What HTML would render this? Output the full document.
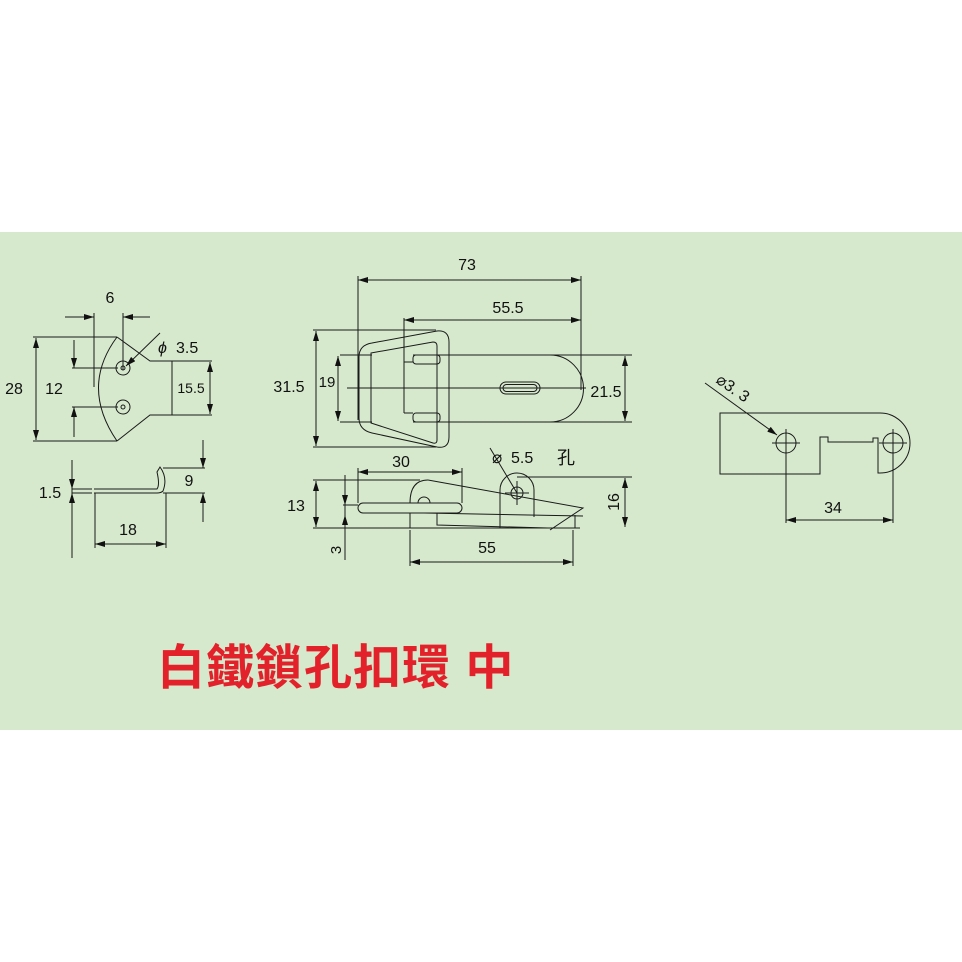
<!DOCTYPE html>
<html><head><meta charset="utf-8"><style>
html,body{margin:0;padding:0;background:#fff}
svg{display:block}
text{font-family:"Liberation Sans","Noto Sans CJK TC",sans-serif;fill:#111}
</style></head><body>
<svg width="962" height="962" viewBox="0 0 962 962" xmlns="http://www.w3.org/2000/svg">
<defs>
<marker id="a" viewBox="0 0 10 6" refX="10" refY="3" markerWidth="10" markerHeight="6" orient="auto-start-reverse" markerUnits="userSpaceOnUse"><path d="M0,0L10,3L0,6z" fill="#111"/></marker>
</defs>
<rect x="0" y="232" width="962" height="498" fill="#d6e9cd"/>
<g fill="none" stroke="#1a1a1a" stroke-width="1">
<line x1="65" y1="317" x2="94" y2="317" marker-end="url(#a)"/>
<line x1="150" y1="317" x2="123" y2="317" marker-end="url(#a)"/>
<line x1="94" y1="313" x2="94" y2="387"/>
<line x1="123" y1="313" x2="123" y2="370"/>
<path d="M117,337 Q80,387 117,441"/>
<path d="M117,337 L150,361 L172,361 L172,415 L150,415 L117,441"/>
<line x1="33" y1="337" x2="117" y2="337"/>
<line x1="33" y1="441" x2="117" y2="441"/>
<line x1="36" y1="388" x2="36" y2="338" marker-end="url(#a)"/>
<line x1="36" y1="388" x2="36" y2="440" marker-end="url(#a)"/>
<circle cx="123" cy="368" r="7"/><circle cx="123" cy="368" r="2"/>
<circle cx="123" cy="407" r="7"/><circle cx="123" cy="407" r="2"/>
<line x1="72" y1="368" x2="118" y2="368"/>
<line x1="72" y1="407" x2="118" y2="407"/>
<line x1="74" y1="340" x2="74" y2="368" marker-end="url(#a)"/>
<line x1="74" y1="437" x2="74" y2="407" marker-end="url(#a)"/>
<line x1="172" y1="361" x2="212" y2="361"/>
<line x1="172" y1="415" x2="212" y2="415"/>
<line x1="210" y1="388" x2="210" y2="362" marker-end="url(#a)"/>
<line x1="210" y1="388" x2="210" y2="414" marker-end="url(#a)"/>
<line x1="160" y1="333" x2="126" y2="366" marker-end="url(#a)"/>
<path d="M94,489 L157,489 Q160,485 157,472 L160,467 Q168,478 163,491 Q161,493 157,493 L94,493"/>
<line x1="72" y1="460" x2="72" y2="558"/>
<line x1="72" y1="470" x2="72" y2="489" marker-end="url(#a)"/>
<line x1="72" y1="512" x2="72" y2="493" marker-end="url(#a)"/>
<line x1="72" y1="489" x2="92" y2="489"/><line x1="72" y1="493" x2="92" y2="493"/>
<line x1="163" y1="468" x2="205" y2="468"/>
<line x1="163" y1="493" x2="205" y2="493"/>
<line x1="203" y1="440" x2="203" y2="468" marker-end="url(#a)"/>
<line x1="203" y1="522" x2="203" y2="493" marker-end="url(#a)"/>
<line x1="95" y1="493" x2="95" y2="548"/>
<line x1="166" y1="493" x2="166" y2="548"/>
<line x1="130" y1="544" x2="95" y2="544" marker-end="url(#a)"/>
<line x1="130" y1="544" x2="166" y2="544" marker-end="url(#a)"/>
<line x1="470" y1="280" x2="358" y2="280" marker-end="url(#a)"/>
<line x1="470" y1="280" x2="581" y2="280" marker-end="url(#a)"/>
<line x1="358" y1="276" x2="358" y2="420"/>
<line x1="581" y1="276" x2="581" y2="390"/>
<line x1="500" y1="320" x2="404" y2="320" marker-end="url(#a)"/>
<line x1="500" y1="320" x2="581" y2="320" marker-end="url(#a)"/>
<line x1="404" y1="318" x2="404" y2="362"/>
<line x1="313" y1="330" x2="436" y2="330"/>
<line x1="313" y1="447" x2="436" y2="447"/>
<line x1="316" y1="388" x2="316" y2="331" marker-end="url(#a)"/>
<line x1="316" y1="388" x2="316" y2="446" marker-end="url(#a)"/>
<line x1="340" y1="355" x2="372" y2="355"/>
<line x1="340" y1="422" x2="372" y2="422"/>
<line x1="338" y1="388" x2="338" y2="356" marker-end="url(#a)"/>
<line x1="338" y1="388" x2="338" y2="421" marker-end="url(#a)"/>
<path d="M372,343 L437,331 Q449,330 449,342 L449,437 Q449,449 437,447 L372,433 Q359,430 359,418 L359,357 Q359,345 372,343 Z"/>
<path d="M371,353 L433,342 Q437,342 437,346 L437,440 Q437,444 433,443 L371,423 Z"/>
<path d="M413,355 L550,355 A33.5,33.5 0 0 1 550,422 L413,422"/>
<line x1="404" y1="362" x2="404" y2="413"/>
<rect x="413" y="355" width="27" height="9" rx="3"/>
<rect x="413" y="413" width="27" height="9" rx="3"/>
<line x1="404" y1="362" x2="413" y2="362"/><line x1="404" y1="413" x2="413" y2="413"/>
<rect x="500" y="382" width="40" height="12" rx="6"/>
<rect x="503" y="384.5" width="34" height="7" rx="3.5"/>
<line x1="347" y1="388" x2="586" y2="388"/>
<line x1="550" y1="355" x2="632" y2="355"/>
<line x1="550" y1="422" x2="632" y2="422"/>
<line x1="625" y1="388" x2="625" y2="356" marker-end="url(#a)"/>
<line x1="625" y1="388" x2="625" y2="421" marker-end="url(#a)"/>
<line x1="410" y1="472" x2="358" y2="472" marker-end="url(#a)"/>
<line x1="410" y1="472" x2="462" y2="472" marker-end="url(#a)"/>
<line x1="358" y1="468" x2="358" y2="503"/>
<line x1="462" y1="468" x2="462" y2="503"/>
<line x1="313" y1="480" x2="420" y2="480"/>
<line x1="313" y1="528" x2="580" y2="528"/>
<line x1="316" y1="504" x2="316" y2="481" marker-end="url(#a)"/>
<line x1="316" y1="504" x2="316" y2="527" marker-end="url(#a)"/>
<line x1="345" y1="475" x2="345" y2="560"/>
<line x1="345" y1="485" x2="345" y2="505" marker-end="url(#a)"/>
<line x1="345" y1="545" x2="345" y2="515" marker-end="url(#a)"/>
<line x1="343" y1="505" x2="358" y2="505"/>
<rect x="358" y="503" width="104" height="10" rx="5"/>
<path d="M410,503 Q410,480 428,480"/>
<path d="M418,503 A6,6 0 0 1 430,503"/>
<path d="M428,480 L583,508 L550,530"/>
<path d="M424,513 L583,516"/>
<path d="M437,513 L437,525 L548,528"/>
<path d="M410,513 L410,528"/>
<line x1="575" y1="515" x2="575" y2="528"/>
<path d="M500,528 L500,490 A17,17 0 0 1 534,490 L534,517"/>
<circle cx="517" cy="493" r="6"/>
<line x1="505" y1="493" x2="529" y2="493"/><line x1="517" y1="481" x2="517" y2="505"/>
<line x1="490" y1="448" x2="517" y2="493"/>
<line x1="517" y1="477" x2="632" y2="477"/>
<line x1="625" y1="503" x2="625" y2="478" marker-end="url(#a)"/>
<line x1="625" y1="503" x2="625" y2="527" marker-end="url(#a)"/>
<line x1="410" y1="530" x2="410" y2="566"/>
<line x1="573" y1="530" x2="573" y2="566"/>
<line x1="490" y1="562" x2="410" y2="562" marker-end="url(#a)"/>
<line x1="490" y1="562" x2="573" y2="562" marker-end="url(#a)"/>
<path d="M720,413 L880,413 A30,30 0 0 1 880,473 L878,473 L878,438 L873,438 L873,442 L828,442 L828,437 L820,437 L820,474 L720,474 Z"/>
<circle cx="786" cy="443" r="10"/>
<circle cx="893" cy="443" r="10"/>
<line x1="772" y1="443" x2="800" y2="443"/><line x1="786" y1="429" x2="786" y2="523"/>
<line x1="879" y1="443" x2="907" y2="443"/><line x1="893" y1="429" x2="893" y2="523"/>
<line x1="705" y1="383" x2="777" y2="435" marker-end="url(#a)"/>
<line x1="840" y1="520" x2="786" y2="520" marker-end="url(#a)"/>
<line x1="840" y1="520" x2="893" y2="520" marker-end="url(#a)"/>
</g>
<g font-size="16">
<text x="110" y="303" text-anchor="middle">6</text>
<text x="14" y="394" text-anchor="middle">28</text>
<text x="54" y="394" text-anchor="middle">12</text>
<text x="191" y="393" text-anchor="middle" font-size="14">15.5</text>
<text x="158" y="353" font-family="Liberation Serif" font-style="italic">ϕ</text>
<text x="176" y="353">3.5</text>
<text x="50" y="498" text-anchor="middle">1.5</text>
<text x="189" y="486" text-anchor="middle">9</text>
<text x="128" y="535" text-anchor="middle">18</text>
<text x="467" y="270" text-anchor="middle">73</text>
<text x="508" y="313" text-anchor="middle">55.5</text>
<text x="289" y="392" text-anchor="middle">31.5</text>
<text x="327" y="387" text-anchor="middle" font-size="15">19</text>
<text x="606" y="397" text-anchor="middle">21.5</text>
<text x="401" y="467" text-anchor="middle">30</text>
<text x="296" y="511" text-anchor="middle">13</text>
<text x="0" y="0" transform="translate(341,550) rotate(-90)" text-anchor="middle" font-family="Liberation Serif" font-size="15">3</text>
<text x="492" y="463" font-family="Liberation Serif" font-size="17">⌀</text>
<text x="511" y="463">5.5</text>
<text x="557" y="464" font-size="18" font-family="Noto Serif CJK SC,serif">孔</text>
<text x="0" y="0" transform="translate(619,502) rotate(-90)" text-anchor="middle" font-family="Liberation Serif" font-size="16">16</text>
<text x="487" y="553" text-anchor="middle">55</text>
<text x="0" y="0" transform="translate(715,382) rotate(35)" font-family="Liberation Serif" font-size="16">⌀3. 3</text>
<text x="833" y="513" text-anchor="middle">34</text>
</g>
<text x="157" y="684" font-size="48" font-weight="bold" letter-spacing="1" style="fill:#e3212b" font-family="Liberation Sans,Noto Sans CJK TC,sans-serif">白鐵鎖孔扣環 中</text>
</svg>
</body></html>
